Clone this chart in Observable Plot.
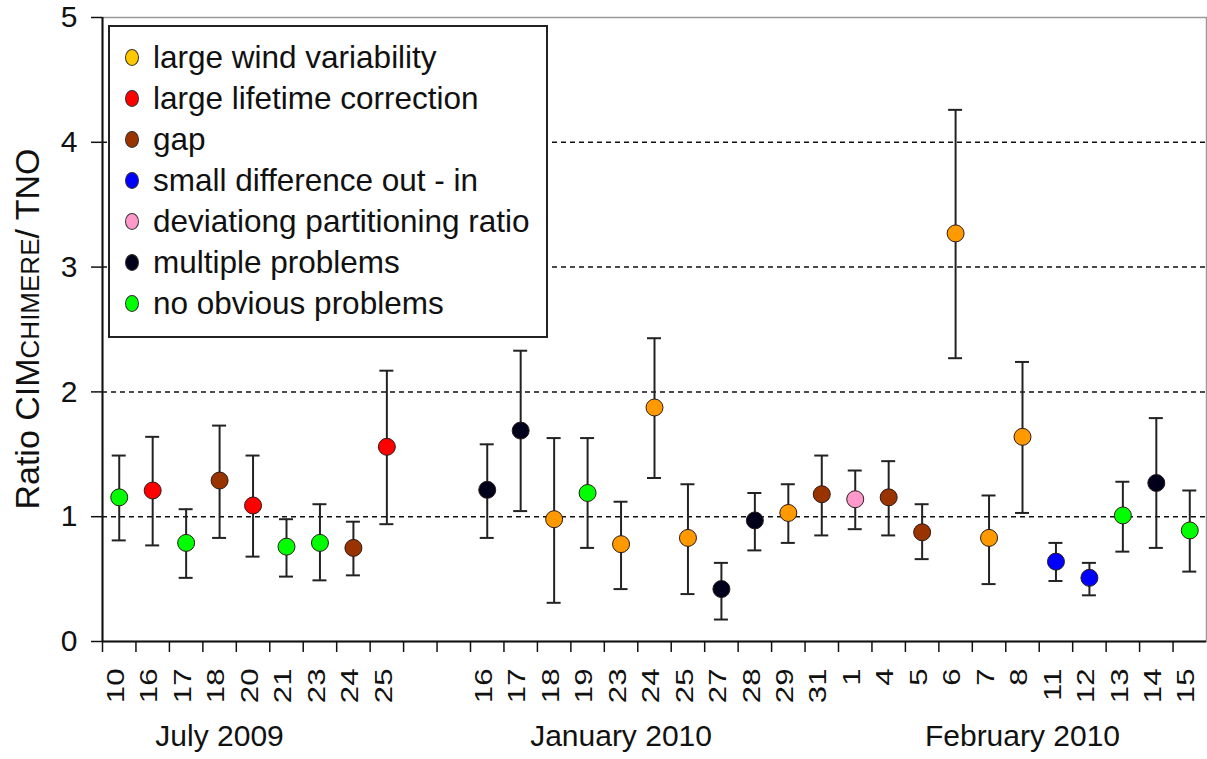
<!DOCTYPE html>
<html><head><meta charset="utf-8">
<script src="https://cdn.jsdelivr.net/npm/d3@7"></script>
<script src="https://cdn.jsdelivr.net/npm/@observablehq/plot@0.6"></script>
<style>
body{margin:0;background:#fff;}
#wrap{position:relative;width:1207px;height:759px;font-family:"Liberation Sans",Arial,sans-serif;color:#111;}
#legend{position:absolute;left:108px;top:25px;width:440px;height:313px;border:2px solid #222;background:#fff;box-sizing:border-box;}
.row{position:absolute;left:0;height:32px;display:flex;align-items:center;font-size:31.5px;color:#111;white-space:nowrap;}
.mk{width:14px;height:17px;border-radius:50%;border:1px solid #333;margin-left:15px;margin-right:14px;box-sizing:border-box;}
</style></head>
<body><div id="wrap"><div id="legend"></div></div>
<script>
// ---- data ----
const julyDays = ["10","16","17","18","20","21","23","24","25"];
const janDays  = ["16","17","18","19","23","24","25","27","28","29","31"];
const febDays  = ["1","4","5","6","7","8","11","12","13","14","15"];
const gapSlots = ["gap-a","gap-b"];

const classes = ["large wind variability","large lifetime correction","gap","small difference out - in","deviationg partitioning ratio","multiple problems","no obvious problems"];
const colors  = ["#FF9900","#FF0000","#993300","#0000FF","#FF99CC","#00001A","#00FF00"];
const legendColors = ["#FFC800","#FF0000","#993300","#0000FF","#FF99CC","#00001A","#00FF00"];

// class index per observation (0 wind,1 lifetime,2 gap,3 small diff,4 partitioning,5 multiple,6 none)
const julyClass = [6,1,6,2,1,6,6,2,1];
const janClass  = [5,5,0,6,0,0,0,5,5,0,2];
const febClass  = [4,2,2,0,0,0,3,3,6,5,6];

const julyRatio = [1.155,1.21,0.79,1.29,1.09,0.76,0.79,0.75,1.56];
const janRatio  = [1.215,1.69,0.98,1.19,0.78,1.875,0.83,0.42,0.97,1.03,1.18];
const febRatio  = [1.14,1.155,0.875,3.27,0.83,1.64,0.64,0.51,1.01,1.27,0.89];

const julyUpper = [1.49,1.64,1.06,1.73,1.49,0.98,1.10,0.96,2.17];
const janUpper  = [1.58,2.33,1.63,1.63,1.12,2.43,1.26,0.63,1.19,1.26,1.49];
const febUpper  = [1.37,1.445,1.10,4.26,1.17,2.24,0.79,0.63,1.28,1.79,1.21];

const julyLower = [0.81,0.77,0.51,0.83,0.68,0.52,0.49,0.53,0.94];
const janLower  = [0.83,1.045,0.31,0.75,0.42,1.31,0.38,0.176,0.73,0.79,0.85];
const febLower  = [0.90,0.85,0.66,2.27,0.46,1.03,0.485,0.37,0.72,0.75,0.56];

const groupLabels = ["July 2009","January 2010","February 2010"];
const groupAnchors = ["Jul-18","Jan-23","Feb-8"];
const yTicks = [0,1,2,3,4,5];
const gridValues = [1,2,3,4];
const yTitleParts = ["Ratio CIM","CHIMERE","/ TNO"];

// ---- build tables ----
const months = [["Jul",julyDays,julyRatio,julyUpper,julyLower,julyClass],
                ["Jan",janDays,janRatio,janUpper,janLower,janClass],
                ["Feb",febDays,febRatio,febUpper,febLower,febClass]];
const obs = [];
const xDomain = [];
months.forEach(([m,days,r,u,l,c],mi)=>{
  days.forEach((d,i)=>{
    const key = m+"-"+d;
    xDomain.push(key);
    obs.push({key, day:d, v:r[i], hi:u[i], lo:l[i], cls:classes[c[i]]});
  });
  if (mi===0) gapSlots.forEach(g=>xDomain.push(g));
});
const dayOf = k => k.startsWith("gap") ? "" : k.split("-")[1];
const groups = groupLabels.map((label,i)=>({label, at:groupAnchors[i]}));

// ---- layout ----
const W=1207, H=759, mL=102, mR=1, mT=17, mB=118;
const bw = (W-mL-mR)/xDomain.length;
const capInset = (bw-14)/2;

const chart = Plot.plot({
  width: W, height: H,
  marginLeft: mL, marginRight: mR, marginTop: mT, marginBottom: mB,
  style: {fontFamily: "'Liberation Sans', Arial, sans-serif", background: "white", color: "#111", overflow: "visible"},
  x: {type: "band", domain: xDomain, padding: 0, round: false},
  y: {domain: [0,5]},
  color: {domain: classes, range: colors},
  marks: [
    Plot.frame({stroke: "#9a9a9a", strokeWidth: 1.5}),
    Plot.ruleY(gridValues, {stroke: "#111", strokeWidth: 1.5, strokeDasharray: "5,4"}),
    Plot.ruleY([0], {stroke: "#111", strokeWidth: 2}),
    Plot.ruleX([xDomain[0]], {dx: -bw/2, stroke: "#111", strokeWidth: 2}),
    Plot.axisY({ticks: yTicks, tickSize: 11, tickPadding: 14, fontSize: 30, tickFormat: d => String(d), label: null, strokeWidth: 1.5}),
    Plot.axisX({ticks: xDomain, tickSize: 11, tickFormat: () => "", dx: -bw/2, label: null, strokeWidth: 1.5}),
    Plot.axisX({ticks: xDomain, tickSize: 0, tickPadding: 27, tickRotate: -90, fontSize: 24, dx: -3, tickFormat: dayOf, label: null}),
    Plot.ruleX(obs, {x: "key", y1: "lo", y2: "hi", stroke: "#222", strokeWidth: 2}),
    Plot.tickY(obs, {x: "key", y: "hi", stroke: "#222", strokeWidth: 2, insetLeft: capInset, insetRight: capInset}),
    Plot.tickY(obs, {x: "key", y: "lo", stroke: "#222", strokeWidth: 2, insetLeft: capInset, insetRight: capInset}),
    Plot.dot(obs, {x: "key", y: "v", fill: "cls", r: 8.5, stroke: "#2a1a1a", strokeWidth: 1}),
    Plot.text(groups, {x: "at", frameAnchor: "bottom", dy: 104, text: "label", fontSize: 30, fill: "#111"})
  ]
});

// y-axis title with subscript
const svg = d3.select(chart);
const t = svg.append("text")
  .attr("transform", `translate(39,${mT + (H-mT-mB)/2}) rotate(-90)`)
  .attr("text-anchor", "middle")
  .attr("font-size", 34)
  .attr("fill", "#111");
t.append("tspan").text(yTitleParts[0]);
t.append("tspan").attr("font-size", 26).text(yTitleParts[1]);
t.append("tspan").text(yTitleParts[2]);

// stretch rotated date labels along their length, as in the original
svg.selectAll('g[aria-label="x-axis tick label"] text').each(function(){
  const tr = this.getAttribute("transform") || "";
  if (tr.includes("rotate")) this.setAttribute("transform", tr + " scale(1.3,1)");
});

const wrap = document.getElementById("wrap");
wrap.insertBefore(chart, wrap.firstChild);

// legend
const leg = document.getElementById("legend");
classes.forEach((c,i)=>{
  const row = document.createElement("div");
  row.className = "row";
  row.style.top = (14 + i*41) + "px";
  const mk = document.createElement("span");
  mk.className = "mk";
  mk.style.background = legendColors[i];
  const tx = document.createElement("span");
  tx.textContent = c;
  row.appendChild(mk); row.appendChild(tx);
  leg.appendChild(row);
});
</script></body></html>
